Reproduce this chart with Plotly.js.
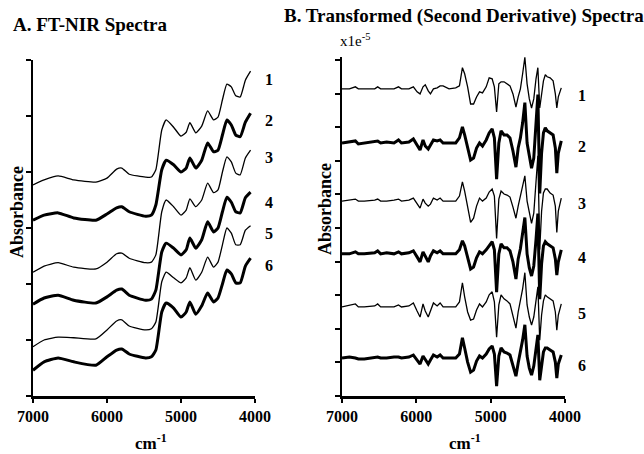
<!DOCTYPE html>
<html>
<head>
<meta charset="utf-8">
<script src="https://cdn.plot.ly/plotly-3.0.1.min.js"></script>
<style>html,body{margin:0;padding:0;background:#fff;}#chart{width:644px;height:454px;}</style>
</head>
<body>
<div id="chart"></div>
<script>
// ---------- Panel A: FT-NIR spectra (wavenumber, cm-1) ----------
const nirWavenumbers = [7000, 6850, 6660, 6450, 6150, 6000, 5870, 5800, 5700, 5480, 5400, 5340, 5260, 5200, 5100, 5000, 4930, 4880, 4800, 4720, 4640, 4560, 4500, 4440, 4380, 4320, 4260, 4200, 4130, 4060];
const nir1 = [3.77, 3.86, 3.93, 3.86, 3.82, 3.89, 4.05, 4.07, 3.96, 3.91, 3.91, 4.04, 4.75, 4.93, 4.80, 4.64, 4.71, 4.88, 4.70, 4.82, 5.09, 4.93, 4.98, 5.29, 5.57, 5.52, 5.36, 5.34, 5.64, 5.80];
const nir2 = [3.14, 3.23, 3.27, 3.18, 3.14, 3.25, 3.36, 3.38, 3.29, 3.21, 3.23, 3.41, 4.04, 4.21, 4.13, 4.00, 4.07, 4.25, 4.07, 4.21, 4.52, 4.36, 4.39, 4.66, 4.93, 4.84, 4.66, 4.63, 4.89, 5.05];
const nir3 = [2.21, 2.32, 2.38, 2.30, 2.27, 2.39, 2.54, 2.55, 2.46, 2.38, 2.39, 2.52, 3.29, 3.50, 3.38, 3.23, 3.32, 3.52, 3.38, 3.50, 3.80, 3.63, 3.68, 4.00, 4.27, 4.18, 3.98, 3.95, 4.25, 4.39];
const nir4 = [1.64, 1.75, 1.80, 1.71, 1.66, 1.77, 1.89, 1.91, 1.80, 1.71, 1.73, 1.89, 2.57, 2.73, 2.64, 2.52, 2.61, 2.82, 2.64, 2.79, 3.11, 2.93, 3.00, 3.29, 3.55, 3.46, 3.29, 3.27, 3.54, 3.64];
const nir5 = [0.88, 1.00, 1.05, 1.04, 1.02, 1.18, 1.34, 1.36, 1.25, 1.18, 1.20, 1.32, 2.04, 2.21, 2.11, 2.02, 2.11, 2.29, 2.07, 2.21, 2.48, 2.30, 2.39, 2.70, 3.00, 2.91, 2.70, 2.70, 2.96, 3.04];
const nir6 = [0.46, 0.61, 0.68, 0.61, 0.55, 0.70, 0.82, 0.84, 0.75, 0.68, 0.70, 0.82, 1.50, 1.66, 1.57, 1.41, 1.50, 1.68, 1.46, 1.61, 1.84, 1.68, 1.75, 2.00, 2.25, 2.18, 2.02, 2.02, 2.32, 2.46];

// ---------- Panel B: second-derivative spectra ----------
const d2Wavenumbers = [7000, 6900, 6820, 6780, 6700, 6560, 6520, 6480, 6400, 6300, 6240, 6200, 6100, 6040, 5990, 5950, 5910, 5880, 5840, 5810, 5770, 5720, 5680, 5640, 5560, 5470, 5420, 5380, 5350, 5310, 5270, 5230, 5190, 5150, 5110, 5060, 5020, 4980, 4950, 4920, 4890, 4860, 4820, 4780, 4740, 4700, 4660, 4630, 4600, 4570, 4540, 4510, 4480, 4450, 4420, 4390, 4365, 4340, 4315, 4290, 4265, 4240, 4200, 4160, 4130, 4110, 4090, 4050];
const d2_1 = [91.4, 91.4, 92.0, 91.4, 91.4, 91.4, 92.0, 91.4, 91.4, 91.4, 92.0, 91.4, 91.4, 92.0, 90.5, 89.9, 92.0, 92.6, 90.8, 89.9, 91.4, 91.7, 92.3, 92.3, 91.4, 91.7, 92.3, 97.7, 95.9, 92.0, 86.9, 86.9, 89.0, 90.5, 90.2, 92.0, 94.7, 94.4, 92.0, 84.5, 92.9, 93.5, 93.5, 92.9, 92.3, 89.9, 86.0, 89.0, 91.4, 95.9, 100.8, 92.9, 88.4, 85.7, 88.4, 94.4, 97.7, 85.7, 89.9, 93.8, 95.6, 95.0, 94.7, 93.8, 89.9, 85.7, 89.0, 91.7];
const d2_2 = [75.3, 75.6, 75.9, 75.0, 75.3, 75.6, 75.9, 75.3, 75.6, 75.3, 76.2, 75.3, 75.6, 76.5, 74.4, 73.2, 76.2, 74.4, 73.5, 74.7, 76.2, 75.9, 76.2, 75.3, 75.3, 75.3, 76.8, 80.1, 77.7, 73.8, 70.2, 70.8, 73.8, 75.3, 74.4, 76.2, 78.3, 79.5, 76.8, 64.5, 75.3, 78.9, 77.7, 77.7, 76.8, 72.9, 68.1, 73.8, 76.8, 81.3, 87.3, 75.3, 70.8, 67.8, 70.8, 79.8, 89.7, 60.3, 72.3, 78.3, 79.8, 78.9, 78.3, 77.7, 73.8, 66.3, 72.3, 75.9];
const d2_3 = [58.0, 58.3, 58.6, 58.0, 58.0, 58.3, 58.6, 58.0, 58.0, 58.3, 58.6, 58.0, 58.3, 58.9, 57.1, 55.9, 58.6, 57.4, 56.5, 57.1, 58.9, 58.3, 58.9, 58.0, 58.0, 58.0, 59.5, 63.7, 61.0, 56.5, 51.7, 52.9, 56.5, 58.9, 58.0, 58.9, 60.7, 61.6, 59.5, 46.9, 58.6, 61.0, 60.1, 59.8, 59.2, 56.2, 52.9, 56.5, 59.5, 63.4, 65.5, 58.0, 54.4, 51.4, 54.4, 62.5, 71.5, 43.6, 55.0, 60.4, 61.6, 61.6, 60.4, 59.8, 56.5, 48.7, 55.0, 58.9];
const d2_4 = [42.3, 42.3, 42.9, 42.3, 42.3, 42.6, 43.2, 42.3, 42.6, 42.3, 42.9, 42.3, 42.6, 43.2, 41.4, 39.9, 42.9, 41.4, 39.9, 41.7, 43.2, 42.6, 43.2, 42.3, 42.3, 42.3, 43.5, 46.2, 44.7, 41.1, 37.8, 38.4, 41.1, 42.9, 42.3, 43.5, 44.7, 45.9, 43.5, 30.9, 42.3, 45.3, 44.1, 44.1, 43.2, 39.9, 34.8, 40.8, 43.8, 48.3, 53.1, 42.3, 38.1, 35.7, 38.7, 46.5, 54.3, 28.8, 39.3, 44.7, 45.9, 45.3, 44.7, 44.1, 40.8, 36.0, 39.9, 43.5];
const d2_5 = [26.5, 27.1, 27.4, 26.5, 26.5, 26.8, 27.4, 26.5, 26.5, 26.5, 27.1, 26.5, 26.8, 27.7, 25.3, 23.5, 27.4, 25.3, 23.5, 25.6, 27.7, 26.8, 27.7, 26.5, 26.5, 26.5, 28.0, 33.7, 29.5, 25.0, 22.6, 22.9, 25.6, 27.4, 26.5, 28.0, 30.1, 31.0, 28.0, 17.5, 27.1, 30.1, 28.9, 28.3, 27.4, 24.1, 20.2, 25.0, 28.0, 31.9, 36.7, 27.1, 23.5, 21.1, 23.5, 29.5, 32.5, 16.6, 24.1, 28.3, 30.1, 29.5, 28.9, 28.3, 25.0, 19.6, 24.1, 27.4];
const d2_6 = [11.3, 11.6, 11.3, 11.0, 11.0, 11.3, 11.6, 11.3, 11.3, 11.6, 11.6, 11.3, 11.6, 12.2, 10.7, 9.5, 11.9, 10.7, 9.5, 10.7, 12.2, 11.6, 12.2, 11.3, 11.3, 11.3, 12.5, 17.3, 14.3, 10.1, 7.1, 7.7, 10.4, 11.9, 11.3, 12.5, 14.0, 14.9, 12.5, 2.9, 11.9, 14.3, 13.1, 12.8, 12.2, 9.2, 5.9, 9.8, 12.8, 16.7, 21.2, 11.9, 8.3, 6.2, 8.9, 14.3, 18.2, 4.7, 9.5, 13.1, 14.3, 14.3, 13.7, 13.1, 10.1, 5.3, 9.5, 12.2];

const seriesNames = ['1', '2', '3', '4', '5', '6'];
const xTicks = [7000, 6000, 5000, 4000];
const xTickText = ['7000', '6000', '5000', '4000'];

const SERIF = 'Liberation Serif, Times New Roman, serif';
const nirSets = [nir1, nir2, nir3, nir4, nir5, nir6];
const d2Sets = [d2_1, d2_2, d2_3, d2_4, d2_5, d2_6];
const widths = [1.3, 3, 1.3, 3, 1.3, 3];

const traces = [];
nirSets.forEach((ys, i) => traces.push({
  x: nirWavenumbers, y: ys, xaxis: 'x', yaxis: 'y', mode: 'lines', name: seriesNames[i],
  line: {color: '#000', width: widths[i], shape: 'spline', smoothing: 0.5}, showlegend: false, hoverinfo: 'skip'
}));
d2Sets.forEach((ys, i) => traces.push({
  x: d2Wavenumbers, y: ys, xaxis: 'x2', yaxis: 'y2', mode: 'lines', name: seriesNames[i],
  line: {color: '#000', width: widths[i]}, showlegend: false, hoverinfo: 'skip'
}));

const axisCommon = {
  showline: true, linecolor: '#000', linewidth: 2.5, showgrid: false, zeroline: false,
  ticks: 'outside', tickcolor: '#000', tickwidth: 2
};
const xCommon = Object.assign({}, axisCommon, {
  range: [7000, 4000], tickvals: xTicks, ticktext: xTickText, ticklen: 4,
  tickfont: {family: SERIF, size: 16, color: '#000', weight: 'bold'}
});

const P = (px) => px / 644;
const Q = (py) => 1 - py / 454;
const ann = (text, px, py, size, extra) => Object.assign({
  text: text, x: P(px), y: Q(py), xref: 'paper', yref: 'paper', showarrow: false,
  xanchor: 'center', yanchor: 'middle',
  font: {family: SERIF, size: size, color: '#000', weight: 'bold'}
}, extra || {});

const leftLabelY = [79, 120, 157, 202, 233, 265];
const rightLabelY = [96, 146, 204, 257, 313, 365];
const annotations = [
  ann('A. FT-NIR Spectra', 90, 25, 19),
  ann('B. Transformed (Second Derivative) Spectra', 464, 16, 19),
  ann('x1e<sup>-5</sup>', 338, 40, 15, {xanchor: 'left', font: {family: SERIF, size: 15, color: '#000'}}),
  ann('Absorbance', 17, 212, 18, {textangle: -90}),
  ann('Absorbance', 325, 209, 18, {textangle: -90}),
  ann('cm<sup>-1</sup>', 151, 442, 17),
  ann('cm<sup>-1</sup>', 465, 442, 17)
];
seriesNames.forEach((s, i) => {
  annotations.push(ann(s, 269, leftLabelY[i], 16));
  annotations.push(ann(s, 582, rightLabelY[i], 16));
});

const layout = {
  width: 644, height: 454, margin: {l: 0, r: 0, t: 0, b: 0},
  paper_bgcolor: '#fff', plot_bgcolor: '#fff', showlegend: false,
  xaxis: Object.assign({}, xCommon, {domain: [P(33), P(255)], anchor: 'y'}),
  yaxis: Object.assign({}, axisCommon, {domain: [Q(396), Q(60)], range: [0, 6], dtick: 1, tick0: 0, ticklen: 5, showticklabels: false, anchor: 'x'}),
  xaxis2: Object.assign({}, xCommon, {domain: [P(342), P(565)], anchor: 'y2'}),
  yaxis2: Object.assign({}, axisCommon, {domain: [Q(396), Q(56.6)], range: [0, 101], dtick: 10, tick0: 0, ticklen: 5, showticklabels: false, anchor: 'x2'}),
  annotations: annotations
};

Plotly.newPlot('chart', traces, layout, {staticPlot: true, displayModeBar: false});
</script>
</body>
</html>
